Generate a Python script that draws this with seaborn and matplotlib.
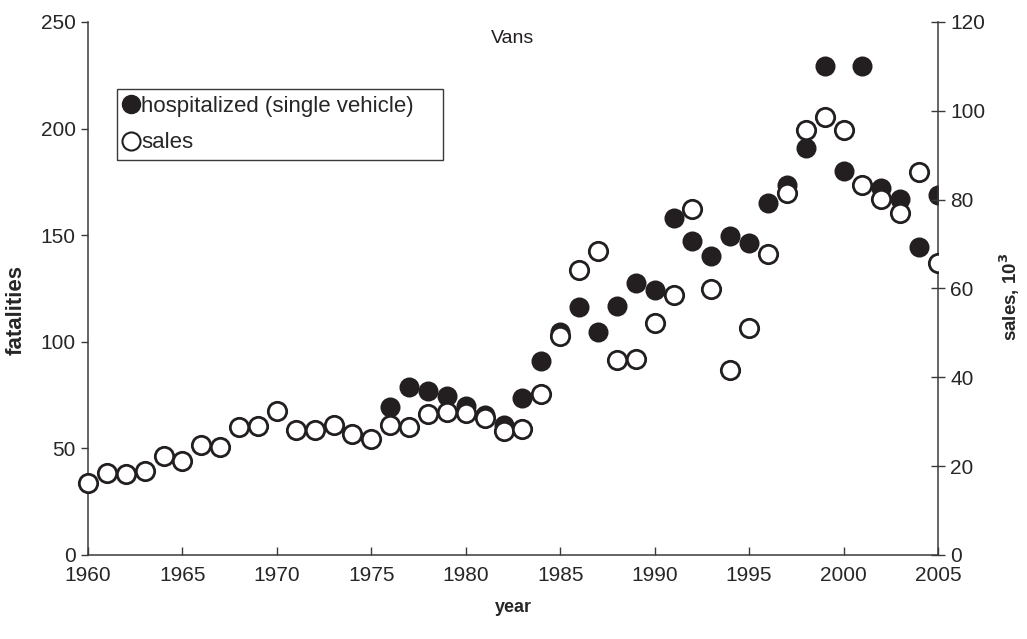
import numpy as np
import pandas as pd
import matplotlib
matplotlib.use("Agg")
import matplotlib.pyplot as plt
import seaborn as sns
from matplotlib.lines import Line2D
from matplotlib.transforms import Bbox, TransformedBbox

# Van data, 1960-2005
years = list(range(1960, 2006))

# sales, thousands (right axis)
sales = [16.1, 18.4, 18.2, 18.9, 22.3, 21.2, 24.8, 24.4, 28.8, 29.1,
         32.5, 28.2, 28.2, 29.3, 27.2, 26.1, 29.2, 28.8, 31.7, 32.1,
         32.0, 30.8, 27.8, 28.3, 36.2, 49.4, 64.2, 68.5, 43.9, 44.1,
         52.2, 58.5, 77.9, 59.8, 41.7, 51.1, 67.7, 81.5, 95.7, 98.5,
         95.6, 83.2, 80.2, 77.0, 86.2, 65.7]

# hospitalized occupants in single-vehicle crashes (left axis), from 1976
hosp_years = list(range(1976, 2006))
hospitalized = [69.5, 78.6, 76.9, 74.7, 69.9, 65.6, 60.9, 73.7, 91.1, 104.7,
                116.4, 104.4, 116.7, 127.8, 124.2, 158.1, 147.4, 140.3, 149.6, 146.4,
                164.9, 173.5, 191.1, 229.3, 180.0, 229.3, 172.2, 166.8, 144.3, 168.8]

left_ticks = [0, 50, 100, 150, 200, 250]
right_ticks = [0, 20, 40, 60, 80, 100, 120]
x_ticks = list(range(1960, 2006, 5))

sns.set_theme(style="white")
plt.rcParams["font.family"] = ["Liberation Sans", "DejaVu Sans"]

df_sales = pd.DataFrame({"year": years, "sales": sales})
df_hosp = pd.DataFrame({"year": hosp_years, "hospitalized": hospitalized})

fig = plt.figure(figsize=(10.27, 6.39), dpi=100)
ax = fig.add_axes([0.0857, 0.1315, 0.8276, 0.8341])
ax2 = ax.twinx()

ink = "#231f20"
msize = 175

sns.scatterplot(data=df_hosp, x="year", y="hospitalized", ax=ax, s=msize,
                color=ink, edgecolor=ink, linewidth=1.2, legend=False, zorder=3)
sns.scatterplot(data=df_sales, x="year", y="sales", ax=ax2, s=msize,
                facecolor="white", edgecolor=ink, linewidth=2.0, legend=False, zorder=3)

ax.set_xlim(1960, 2005)
ax.set_ylim(0, 250)
ax2.set_ylim(0, 120)
ax.set_xticks(x_ticks)
ax.set_yticks(left_ticks)
ax2.set_yticks(right_ticks)

# markers spill past the left edge but are cut at the right axis
for a in (ax, ax2):
    for coll in a.collections:
        coll.set_clip_box(TransformedBbox(Bbox([[-0.2, -0.2], [1.0, 1.2]]), a.transAxes))

spine_c = "#3a3a3a"
for a in (ax, ax2):
    for side in ("left", "right", "bottom"):
        a.spines[side].set_color(spine_c)
        a.spines[side].set_linewidth(1.1)
    a.spines["top"].set_visible(False)
ax.spines["right"].set_visible(False)
ax2.spines["left"].set_visible(False)
ax2.spines["bottom"].set_visible(False)

tick_fs = 15
ax.tick_params(axis="x", direction="in", length=6, width=1, color=spine_c,
               labelsize=tick_fs, pad=8, bottom=True)
ax.tick_params(axis="y", direction="out", length=5, width=1, color=spine_c,
               labelsize=tick_fs, pad=4, left=True)
ax2.tick_params(axis="y", direction="inout", length=10, width=1, color=spine_c,
                labelsize=tick_fs, pad=4, right=True)

ax.set_xlabel("year", fontsize=13, fontweight="bold", labelpad=10)
ax.set_ylabel("fatalities", fontsize=16, fontweight="bold")
ax.yaxis.set_label_coords(-0.072, 0.46)
ax2.set_ylabel("sales, 10$^\\mathbf{3}$", fontsize=13.5, fontweight="bold")
ax2.yaxis.set_label_coords(1.07, 0.485)

ax.grid(False)
ax2.grid(False)

ax.text(0.5, 0.985, "Vans", transform=ax.transAxes, ha="center", va="top",
        fontsize=14, color=ink)

handles = [
    Line2D([], [], ls="none", marker="o", markersize=13, markerfacecolor=ink,
           markeredgecolor=ink, label="hospitalized (single vehicle)"),
    Line2D([], [], ls="none", marker="o", markersize=13, markerfacecolor="white",
           markeredgecolor=ink, markeredgewidth=1.5, label="sales"),
]
leg = ax2.legend(handles=handles, loc="upper left",
                 bbox_to_anchor=(0.034, 0.874, 0.3835, 0.0), mode="expand",
                 fontsize=16, frameon=True, fancybox=False, handlelength=0.7,
                 handletextpad=0.1, borderpad=0.3, labelspacing=0.7,
                 borderaxespad=0.0)
leg.get_frame().set_edgecolor(spine_c)
leg.get_frame().set_linewidth(1.0)
leg.get_frame().set_alpha(1.0)

fig.savefig("out.png", dpi=100)
